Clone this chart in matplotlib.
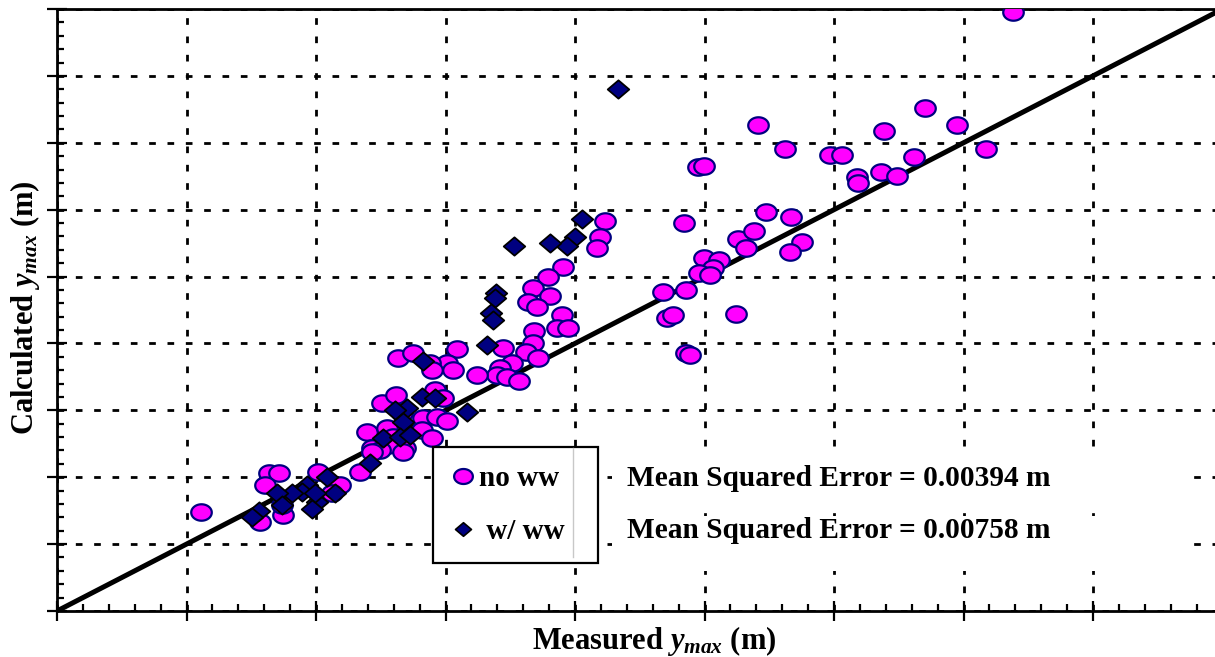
import numpy as np
import matplotlib
matplotlib.use("Agg")
import matplotlib.pyplot as plt
from matplotlib.path import Path
from matplotlib.lines import Line2D
from matplotlib.patches import Rectangle

plt.rcParams['font.family'] = ['Liberation Serif', 'DejaVu Serif']
plt.rcParams['mathtext.fontset'] = 'custom'
plt.rcParams['mathtext.rm'] = 'Liberation Serif:bold'
plt.rcParams['mathtext.it'] = 'Liberation Serif:italic:bold'
plt.rcParams['mathtext.bf'] = 'Liberation Serif:bold'

# ---- data (m) ----
no_ww_measured = [0.3691, 0.3351, 0.2707, 0.3193, 0.3475, 0.2811, 0.2985, 0.3031, 0.3309, 0.3587,
                  0.3089, 0.3093, 0.3181, 0.3243, 0.2475, 0.2498, 0.2116, 0.2097, 0.2085, 0.2421,
                  0.2737, 0.2834, 0.2629, 0.2691, 0.2660, 0.2876, 0.2830, 0.2498, 0.2556, 0.2533,
                  0.2479, 0.2521, 0.2340, 0.2429, 0.2355, 0.2378, 0.2622, 0.2429, 0.2444, 0.1954,
                  0.1896, 0.1838, 0.1903, 0.1819, 0.1853, 0.1950, 0.1931, 0.1973, 0.1842, 0.1838,
                  0.1811, 0.1857, 0.1722, 0.1544, 0.1506, 0.1529, 0.1757, 0.1710, 0.1699, 0.1737,
                  0.1784, 0.1622, 0.1440, 0.1448, 0.1317, 0.1375, 0.1255, 0.1309, 0.1459, 0.1490,
                  0.1413, 0.1409, 0.1467, 0.1506, 0.1197, 0.1274, 0.1297, 0.1344, 0.1216, 0.1278,
                  0.1448, 0.1247, 0.1336, 0.1216, 0.1170, 0.1008, 0.1093, 0.1062, 0.0819, 0.0857,
                  0.0803, 0.0784, 0.0873, 0.0869, 0.0556, 0.1332]
no_ww_calculated = [0.4476, 0.3757, 0.3630, 0.3585, 0.3630, 0.3451, 0.3406, 0.3406, 0.3391, 0.3451,
                    0.3241, 0.3196, 0.3278, 0.3248, 0.3316, 0.3323, 0.2912, 0.2799, 0.2717, 0.2897,
                    0.2979, 0.2942, 0.2777, 0.2837, 0.2717, 0.2762, 0.2687, 0.2635, 0.2627, 0.2567,
                    0.2530, 0.2515, 0.2388, 0.2403, 0.2193, 0.2216, 0.2223, 0.1931, 0.1916, 0.2575,
                    0.2493, 0.2418, 0.2358, 0.2313, 0.2275, 0.2216, 0.2118, 0.2118, 0.2096, 0.2006,
                    0.1939, 0.1894, 0.1969, 0.1961, 0.1856, 0.1804, 0.1856, 0.1819, 0.1766, 0.1751,
                    0.1722, 0.1766, 0.1856, 0.1804, 0.1894, 0.1931, 0.1557, 0.1617, 0.1654, 0.1594,
                    0.1445, 0.1355, 0.1452, 0.1422, 0.1340, 0.1370, 0.1302, 0.1220, 0.1220, 0.1243,
                    0.1295, 0.1205, 0.1190, 0.1190, 0.1040, 0.1040, 0.0943, 0.0883, 0.1033, 0.1033,
                    0.0943, 0.0666, 0.0719, 0.0793, 0.0741, 0.1482]

w_ww_measured = [0.2166, 0.2027, 0.2000, 0.1969, 0.1903, 0.1765, 0.1695, 0.1691, 0.1676, 0.1683,
                 0.1660, 0.1583, 0.1413, 0.1409, 0.1459, 0.1351, 0.1305, 0.1336, 0.1259, 0.1324,
                 0.1363, 0.1208, 0.1042, 0.1073, 0.1004, 0.0985, 0.0965, 0.0946, 0.0907, 0.0849,
                 0.0869, 0.0780, 0.0753, 0.0996]
w_ww_calculated = [0.3900, 0.2927, 0.2792, 0.2725, 0.2754, 0.2732, 0.2380, 0.2343, 0.2231, 0.2178,
                   0.1991, 0.1490, 0.1871, 0.1602, 0.1594, 0.1519, 0.1504, 0.1415, 0.1295, 0.1302,
                   0.1317, 0.1108, 0.1003, 0.0883, 0.0816, 0.0763, 0.0943, 0.0891, 0.0883, 0.0883,
                   0.0793, 0.0749, 0.0704, 0.0883]

series_labels = ["no ww", " w/ ww"]
mse_texts = ["Mean Squared Error = 0.00394 m", "Mean Squared Error = 0.00758 m"]
x_label = r"Measured $y_{max}$ (m)"
y_label = r"Calculated $y_{max}$ (m)"

# ---- custom squashed markers ----
t = np.linspace(0, 2 * np.pi, 64)
ellipse = Path(np.column_stack([np.cos(t), 0.8 * np.sin(t)]), closed=True)
diamond = Path([(-1, 0), (0, 0.85), (1, 0), (0, -0.85), (-1, 0)], closed=True)

W, H = 1215, 657
fig = plt.figure(figsize=(W / 100, H / 100), dpi=100)
ax = fig.add_axes([57 / W, 46 / H, 1165.5 / W, 602 / H])
ax.set_xlim(0, 0.45)
ax.set_ylim(0, 0.45)

ax.set_xticks(np.arange(0, 0.4501, 0.05))
ax.set_yticks(np.arange(0, 0.4501, 0.05))
ax.set_xticks(np.arange(0, 0.4501, 0.01), minor=True)
ax.set_yticks(np.arange(0, 0.4501, 0.01), minor=True)
ax.tick_params(which='both', labelbottom=False, labelleft=False)
ax.tick_params(which='major', direction='inout', length=15, width=1.6, color='black')
ax.tick_params(which='minor', direction='in', length=5, width=1.6, color='black')

ax.grid(which='major', color='black', linestyle=(0, (2.4, 4.2)), linewidth=2.0, zorder=0)
ax.set_axisbelow(True)
for s in ['left', 'bottom', 'top']:
    ax.spines[s].set_linewidth(2.0)
ax.spines['right'].set_visible(False)

ax.plot([0, 0.45], [0, 0.45], color='black', linewidth=3.6, zorder=2, solid_capstyle='butt')

ax.plot(no_ww_measured, no_ww_calculated, linestyle='none', marker=ellipse, markersize=14.8,
        markerfacecolor='#ff00ff', markeredgecolor='#000080', markeredgewidth=1.6, zorder=3,
        label=series_labels[0])
ax.plot(w_ww_measured, w_ww_calculated, linestyle='none', marker=diamond, markersize=15.5,
        markerfacecolor='#000080', markeredgecolor='black', markeredgewidth=1.3, zorder=4,
        label=series_labels[1])

handles = [
    Line2D([], [], linestyle='none', marker=ellipse, markersize=13.5, markerfacecolor='#ff00ff',
           markeredgecolor='#000080', markeredgewidth=1.6),
    Line2D([], [], linestyle='none', marker=diamond, markersize=11.5, markerfacecolor='#000080',
           markeredgecolor='black', markeredgewidth=1.2),
]
leg = ax.legend(handles, series_labels, loc='upper left',
                bbox_to_anchor=(433 / W, 1 - 558 / H, 165 / W, 111 / H),
                bbox_transform=fig.transFigure, mode='expand',
                frameon=True, fancybox=False, framealpha=1, edgecolor='black',
                prop={'family': 'Liberation Serif', 'weight': 'bold', 'size': 21},
                handlelength=0.8, handletextpad=0.15, labelspacing=0.9, borderpad=0.62,
                borderaxespad=0)
leg.get_frame().set_linewidth(1.6)
leg.set_zorder(6)

fig.add_artist(Line2D([573 / W, 573 / W], [1 - 448 / H, 1 - 557 / H], color='#c8c8c8',
                      linewidth=1.0, transform=fig.transFigure, zorder=7))

# white backgrounds behind the error annotations
for (y0, y1) in [(457, 510), (516, 571)]:
    fig.add_artist(Rectangle((612 / W, 1 - y1 / H), (1183 - 612) / W, (y1 - y0) / H,
                             transform=fig.transFigure, facecolor='white', edgecolor='none',
                             zorder=1))

for txt, ypix in zip(mse_texts, [478, 530]):
    fig.text(627 / W, 1 - ypix / H, txt, ha='left', va='center', fontsize=21.2,
             fontweight='bold', family='Liberation Serif', zorder=2)

fig.text(654 / W, 1 - 641 / H, x_label, ha='center', va='center', fontsize=22,
         fontweight='bold', family='Liberation Serif')
fig.text(25 / W, 1 - 308 / H, y_label, ha='center', va='center', fontsize=22,
         fontweight='bold', family='Liberation Serif', rotation=90)

fig.savefig('out.png', dpi=100)
